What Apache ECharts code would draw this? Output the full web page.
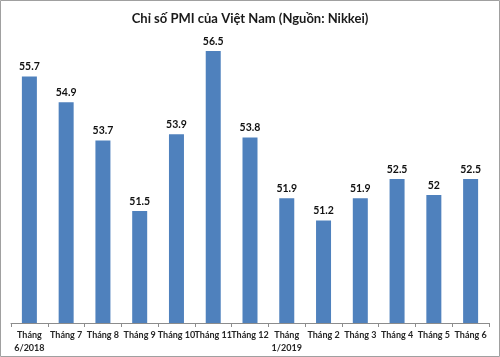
<!DOCTYPE html>
<html>
<head>
<meta charset="utf-8">
<script src="https://cdn.jsdelivr.net/npm/echarts@6/dist/echarts.min.js"></script>
<style>
html,body{margin:0;padding:0;background:#fff;}
#main{width:500px;height:357px;}
</style>
</head>
<body>
<div id="main"></div>
<script>
const titleText = 'Chỉ số PMI của Việt Nam (Nguồn: Nikkei)';
const categories = ['Tháng\n6/2018','Tháng 7','Tháng 8','Tháng 9','Tháng 10','Tháng 11','Tháng 12','Tháng\n1/2019','Tháng 2','Tháng 3','Tháng 4','Tháng 5','Tháng 6'];
const pmiValues = [55.7, 54.9, 53.7, 51.5, 53.9, 56.5, 53.8, 51.9, 51.2, 51.9, 52.5, 52, 52.5];

const chart = echarts.init(document.getElementById('main'), null, {renderer:'canvas'});
chart.setOption({
  animation: false,
  backgroundColor: '#fff',
  title: {
    text: titleText,
    left: 'center',
    top: 7,
    textStyle: {fontFamily: 'Lato', fontSize: 13, fontWeight: 'bold', color: '#1a1a1a'}
  },
  graphic: [{
    type: 'rect',
    shape: {x: 0.5, y: 0.5, width: 499, height: 356},
    style: {fill: 'none', stroke: '#a0a0a0', lineWidth: 1},
    silent: true
  }],
  grid: {left: 11, right: 11, top: 35, bottom: 34, containLabel: false},
  xAxis: {
    type: 'category',
    data: categories,
    axisLine: {lineStyle: {color: '#8c8c8c', width: 1}},
    axisTick: {show: true, alignWithLabel: false, length: 4, lineStyle: {color: '#8c8c8c'}},
    axisLabel: {interval: 0, fontFamily: 'Lato', fontSize: 9, fontWeight: 'bold', color: '#262626', margin: 6, lineHeight: 13}
  },
  yAxis: {
    type: 'value',
    min: 48,
    max: 57,
    show: false,
    splitLine: {show: false}
  },
  series: [{
    type: 'bar',
    data: pmiValues,
    barWidth: 15,
    itemStyle: {color: '#4F81BD'},
    label: {
      show: true,
      position: 'top',
      distance: 4,
      fontFamily: 'Lato',
      fontSize: 10.5,
      fontWeight: 'bold',
      color: '#111'
    }
  }]
});
</script>
</body>
</html>
